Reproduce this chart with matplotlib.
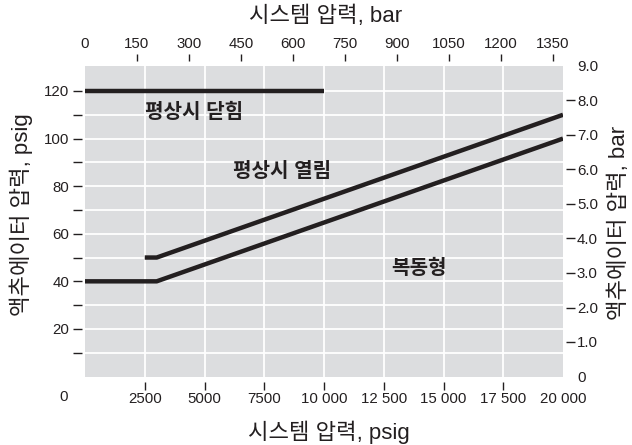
import matplotlib
matplotlib.use('Agg')
import matplotlib.pyplot as plt

plt.rcParams['font.family'] = ['Liberation Sans', 'Noto Sans CJK KR']

PSI_PER_BAR = 14.5038
INK = '#231f20'

# --- data (psig) ---
nc_x = [0, 10000]
nc_y = [120, 120]
no_x = [2500, 3000, 20000]
no_y = [50, 50, 110]
da_x = [0, 3000, 20000]
da_y = [40, 40, 100]

x_ticks = [2500, 5000, 7500, 10000, 12500, 15000, 17500]
x_ticklabels = ['2500', '5000', '7500', '10 000', '12 500', '15 000', '17 500']
top_ticks = [150, 300, 450, 600, 750, 900, 1050, 1200, 1350]
top_ticklabels = ['150', '300', '450', '600', '750', '900', '1050', '1200', '1350']
left_ticks = [20, 40, 60, 80, 100, 120]
left_minor = [10, 30, 50, 70, 90, 110]
right_ticks = [1, 2, 3, 4, 5, 6, 7, 8]
right_ticklabels = ['1.0', '2.0', '3.0', '4.0', '5.0', '6.0', '7.0', '8.0']

TS = 10.8
W, H = 632, 445
fig = plt.figure(figsize=(W / 100, H / 100), dpi=100)
ax = fig.add_axes([85 / W, 1 - 376.5 / H, 478 / W, 310.5 / H])
ax.set_facecolor('#dcdddf')
ax.set_xlim(0, 20000)
ax.set_ylim(0, 130.5)
for s in ax.spines.values():
    s.set_visible(False)
ax.spines['left'].set_position(('outward', 2.2))
ax.spines['bottom'].set_position(('outward', 3.6))

# grid
for gx in x_ticks:
    ax.axvline(gx, color='white', lw=1.3, zorder=1)
for gy in range(10, 130, 10):
    ax.axhline(gy, color='white', lw=1.3, zorder=1)

# lines
for xs, ys in [(nc_x, nc_y), (no_x, no_y), (da_x, da_y)]:
    ax.plot(xs, ys, color=INK, lw=3.2, solid_capstyle='butt', zorder=3)

ax.text(4560, 111, '평상시 닫힘', ha='center', va='center', fontsize=14.5,
        fontweight='bold', color=INK)
ax.text(8260, 86.3, '평상시 열림', ha='center', va='center', fontsize=14.5,
        fontweight='bold', color=INK)
ax.text(13975, 45.6, '복동형', ha='center', va='center', fontsize=14.5,
        fontweight='bold', color=INK)

# bottom axis
ax.set_xticks(x_ticks)
ax.set_xticklabels(x_ticklabels)
ax.set_xticks([20000], minor=True)
ax.set_xticklabels(['20 000'], minor=True)
ax.tick_params(axis='x', which='major', direction='out', length=5.8, width=1,
               color=INK, pad=2.0, labelsize=TS, labelcolor=INK)
ax.tick_params(axis='x', which='minor', length=0, pad=7.8, labelsize=TS,
               labelcolor=INK)

# left axis
ax.set_yticks(left_ticks)
ax.set_yticks(left_minor, minor=True)
ax.tick_params(axis='y', which='both', direction='out', length=6.5, width=1,
               color=INK, pad=2.6, labelsize=TS, labelcolor=INK)

# right axis (bar)
ax2 = ax.twinx()
ax2.set_ylim(0, 130.5 / PSI_PER_BAR)
for s in ax2.spines.values():
    s.set_visible(False)
ax2.spines['right'].set_position(('outward', 2.2))
ax2.set_yticks(right_ticks)
ax2.set_yticklabels(right_ticklabels)
ax2.set_yticks([0, 9], minor=True)
ax2.set_yticklabels(['0', '9.0'], minor=True)
ax2.tick_params(axis='y', which='major', direction='out', length=6.5, width=1,
                color=INK, pad=1.3, labelsize=TS, labelcolor=INK)
ax2.tick_params(axis='y', which='minor', length=0, pad=7.8, labelsize=TS,
                labelcolor=INK)

# top axis (bar)
ax3 = ax.twiny()
ax3.set_xlim(0, 20000 / PSI_PER_BAR)
for s in ax3.spines.values():
    s.set_visible(False)
ax3.spines['top'].set_position(('outward', 3.6))
ax3.set_xticks(top_ticks)
ax3.set_xticklabels(top_ticklabels)
ax3.set_xticks([0], minor=True)
ax3.set_xticklabels(['0'], minor=True)
ax3.tick_params(axis='x', which='major', direction='out', length=5, width=1,
                color=INK, pad=2.0, labelsize=TS, labelcolor=INK)
ax3.tick_params(axis='x', which='minor', length=0, pad=7.0, labelsize=TS,
                labelcolor=INK)

# corner "0"
fig.text(64 / W, 1 - 397 / H, '0', ha='center', va='center', fontsize=TS,
         color=INK)

# axis titles
fig.text(325.5 / W, 1 - 16 / H, '시스템 압력, bar', ha='center', va='center',
         fontsize=16, color=INK)
fig.text(329 / W, 1 - 432 / H, '시스템 압력, psig', ha='center', va='center',
         fontsize=16, color=INK)
fig.text(21 / W, 1 - 215 / H, '액추에이터 압력, psig', ha='center', va='center',
         rotation=90, fontsize=16, color=INK)
fig.text(619 / W, 1 - 223 / H, '액추에이터 압력, bar', ha='center', va='center',
         rotation=90, fontsize=16, color=INK)

fig.savefig('out.png', dpi=100)
